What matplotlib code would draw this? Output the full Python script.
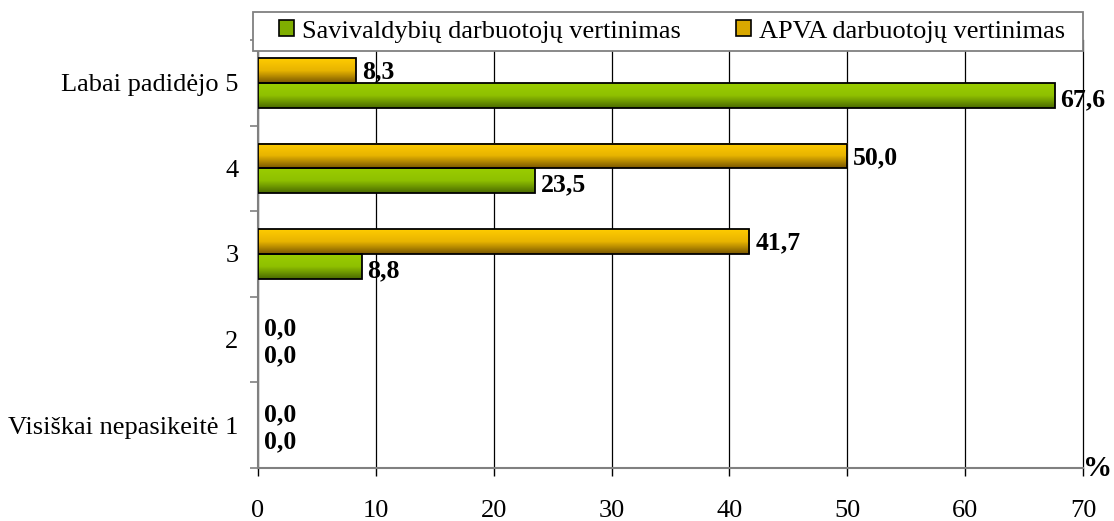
import matplotlib
matplotlib.use("Agg")
import matplotlib.pyplot as plt
import numpy as np
from matplotlib.patches import Patch, Rectangle
from matplotlib.colors import LinearSegmentedColormap

plt.rcParams['font.family'] = ['Liberation Serif', 'DejaVu Serif']

categories = ['Visiškai nepasikeitė 1', '2', '3', '4', 'Labai padidėjo 5']
savivaldybiu = [0.0, 0.0, 8.8, 23.5, 67.6]
apva = [0.0, 0.0, 41.7, 50.0, 8.3]
series_names = ['Savivaldybių darbuotojų vertinimas', 'APVA darbuotojų vertinimas']
x_ticks = [0, 10, 20, 30, 40, 50, 60, 70]

# gradient colours (top -> bottom of each bar)
green_cmap = LinearSegmentedColormap.from_list('g', ['#9acd00', '#8fc000', '#4a6a00'])
orange_cmap = LinearSegmentedColormap.from_list('o', ['#ffcc00', '#e8b400', '#7a5800'])

W, H = 1114, 521
fig = plt.figure(figsize=(W / 100, H / 100), dpi=100)
ax = fig.add_axes([258 / W, 53 / H, 825 / W, 428 / H])

y = np.arange(len(categories))
h = 0.29

grad = np.linspace(0, 1, 64).reshape(-1, 1)


def gradient_bars(ypos, vals, cmap):
    lw = [1.3 if v > 0 else 0 for v in vals]
    bars = ax.barh(ypos, vals, height=h, facecolor='none', edgecolor='black',
                   linewidth=lw, zorder=4)
    for b, v in zip(bars, vals):
        if v <= 0:
            continue
        x0, y0 = b.get_x(), b.get_y()
        ax.imshow(grad, cmap=cmap, aspect='auto', origin='upper',
                  extent=[x0, x0 + b.get_width(), y0, y0 + b.get_height()],
                  zorder=3)
    return bars


gradient_bars(y - h / 2, savivaldybiu, green_cmap)
gradient_bars(y + h / 2, apva, orange_cmap)

for i in range(len(categories)):
    ax.text(savivaldybiu[i] + 0.5, y[i] - h / 2 - 0.05, f"{savivaldybiu[i]:.1f}".replace('.', ','),
            va='center', ha='left', fontsize=18.5, fontweight='bold', zorder=5)
    ax.text(apva[i] + 0.5, y[i] + h / 2 - 0.02, f"{apva[i]:.1f}".replace('.', ','),
            va='center', ha='left', fontsize=18.5, fontweight='bold', zorder=5)

ax.set_xlim(0, 70)
ax.set_ylim(-0.5, len(categories) - 0.5)
ax.set_xticks(x_ticks)
ax.set_xticklabels([str(t) for t in x_ticks], fontsize=19)
ax.set_yticks(y)
ax.set_yticklabels(categories, fontsize=19)
ax.set_yticks(np.arange(-0.5, len(categories)), minor=True)
ax.tick_params(axis='y', which='major', length=0, pad=14)
ax.tick_params(axis='y', which='minor', length=6, color='#808080', width=1.2)
ax.tick_params(axis='x', length=6, width=1, color='black', pad=17)

ax.grid(axis='x', color='black', linewidth=0.9, zorder=0)
for gl in ax.get_xgridlines():
    gl.set_clip_on(False)
ax.set_axisbelow(True)
for s in ['top', 'right']:
    ax.spines[s].set_visible(False)
for s in ['left', 'bottom']:
    ax.spines[s].set_color('#808080')
    ax.spines[s].set_linewidth(1.5)
ax.spines['bottom'].set_zorder(1)

fig.text(1112 / W, 1 - 476 / H, '%', fontsize=21, fontweight='bold', ha='right', va='baseline')

# legend box
fig.add_artist(Rectangle((253 / W, 1 - 51 / H), 830 / W, 39 / H, transform=fig.transFigure,
                         facecolor='white', edgecolor='#808080', linewidth=1.3, zorder=9))
handles = [Patch(facecolor='#7fae00', edgecolor='black', linewidth=1.2),
           Patch(facecolor='#d9a800', edgecolor='black', linewidth=1.2)]
leg = fig.legend(handles, series_names, loc='center', ncol=2,
                 bbox_to_anchor=(672 / W, 1 - 31.5 / H), fontsize=19,
                 frameon=False, handlelength=0.55, handleheight=0.55, handletextpad=0.3,
                 columnspacing=2.1, borderpad=0, borderaxespad=0)
leg.set_zorder(10)

fig.savefig('out.png', dpi=100)
